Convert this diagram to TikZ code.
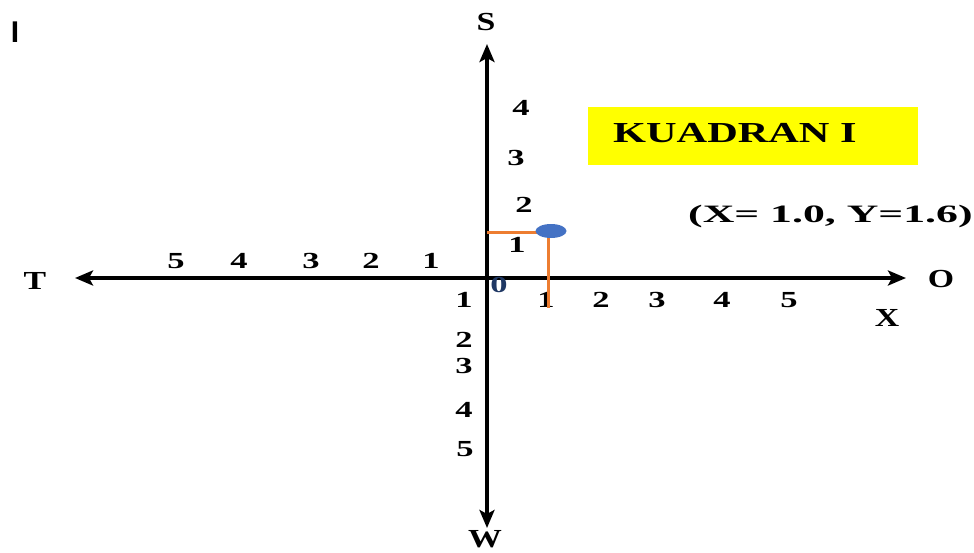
\documentclass[tikz,border=0pt]{standalone}
\usepackage{fontspec}
\setmainfont{Liberation Serif}
\setsansfont{Liberation Sans}
\usetikzlibrary{arrows.meta,shapes.geometric}
\newcommand\stx[2]{\scalebox{#1}[1]{#2}}
\tikzset{
  lab/.style={font=\fontsize{23}{23}\selectfont\bfseries, inner sep=0pt, text=black},
  big/.style={font=\fontsize{26}{26}\selectfont\bfseries, inner sep=0pt, text=black},
  axis/.style={line width=3.8pt, -{Stealth[length=18pt,width=15pt,inset=4pt]}},
  guide/.style={line width=3pt, draw={rgb,255:red,237;green,125;blue,49}},
}
\begin{document}
\begin{tikzpicture}[x=1pt,y=-1pt]
\useasboundingbox (0,0) rectangle (974,552);
% axes
\coordinate (o) at (487,278);
\coordinate (left) at (75,278);
\coordinate (right) at (906,278);
\coordinate (top) at (487,44);
\coordinate (bot) at (487,528);
\draw[axis] (o) -- (left);
\draw[axis] (o) -- (right);
\draw[axis] (o) -- (top);
\draw[axis] (o) -- (bot);
% axis names
\node[big] (T) at (35,281) {\stx{1.3}{T}};
\node[big] (O) at (941,279) {\stx{1.3}{O}};
\node[big] (S) at (486,22) {\stx{1.3}{S}};
\node[big] (W) at (485,539) {\stx{1.3}{W}};
\node[big] (X) at (887,318) {\stx{1.3}{X}};
\node[font=\sffamily\bfseries\fontsize{30}{30}\selectfont, inner sep=0pt] (I) at (15,32) {I};
% ticks labels left
\node[lab] (l5) at (176,261) {\stx{1.5}{5}};
\node[lab] (l4) at (239,261) {\stx{1.5}{4}};
\node[lab] (l3) at (311,261) {\stx{1.5}{3}};
\node[lab] (l2) at (371,261) {\stx{1.5}{2}};
\node[lab] (l1) at (431,261) {\stx{1.5}{1}};
% right
\node[lab] (r1) at (546,300) {\stx{1.5}{1}};
\node[lab] (r2) at (601,300) {\stx{1.5}{2}};
\node[lab] (r3) at (657,300) {\stx{1.5}{3}};
\node[lab] (r4) at (722,300) {\stx{1.5}{4}};
\node[lab] (r5) at (789,300) {\stx{1.5}{5}};
% up
\node[lab] (u4) at (521,108) {\stx{1.5}{4}};
\node[lab] (u3) at (516,158) {\stx{1.5}{3}};
\node[lab] (u2) at (524,205) {\stx{1.5}{2}};
\node[lab] (u1) at (517,245) {\stx{1.5}{1}};
% down
\node[lab] (d1) at (464,300) {\stx{1.5}{1}};
\node[lab] (d2) at (464,340) {\stx{1.5}{2}};
\node[lab] (d3) at (464,366) {\stx{1.5}{3}};
\node[lab] (d4) at (464,410) {\stx{1.5}{4}};
\node[lab] (d5) at (465,449) {\stx{1.5}{5}};
% origin
\node[lab, text={rgb,255:red,31;green,56;blue,100}] (zero) at (499,285) {\stx{1.5}{0}};
% point
\coordinate (py) at (487,232);
\coordinate (pp) at (548,232);
\coordinate (px) at (548,308);
\draw[guide] (py) -- (pp) -- (px);
\node[ellipse, fill={rgb,255:red,68;green,114;blue,196}, minimum width=31pt, minimum height=14pt, inner sep=0pt] (pt) at (551,231) {};
% yellow box
\node[fill={rgb,255:red,255;green,255;blue,0}, minimum width=330pt, minimum height=58pt, inner sep=0pt] (box) at (753,136) {};
\node[font=\fontsize{29}{29}\selectfont\bfseries, inner sep=0pt, anchor=west] (kuad) at (613,133) {\stx{1.46}{KUADRAN I}};
\node[font=\fontsize{25}{25}\selectfont\bfseries, inner sep=0pt, anchor=west] (coord) at (688,216) {\stx{1.75}{(X= 1.0, Y=1.6)}};
\end{tikzpicture}
\end{document}
